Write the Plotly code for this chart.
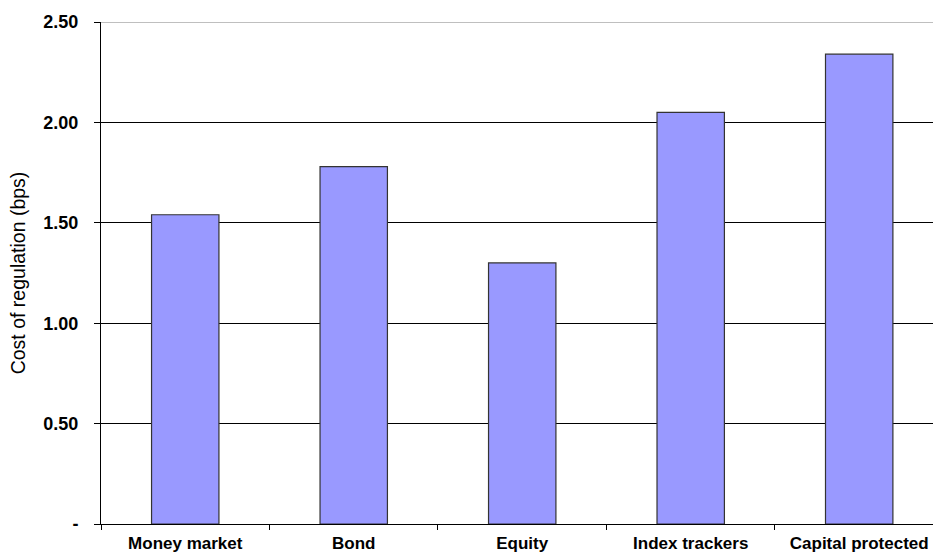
import plotly.graph_objects as go

categories = ["Money market", "Bond", "Equity", "Index trackers", "Capital protected"]
cost_bps = [1.54, 1.78, 1.30, 2.05, 2.34]

y_tickvals = [0, 0.5, 1.0, 1.5, 2.0, 2.5]
y_ticktext = ["-", "0.50", "1.00", "1.50", "2.00", "2.50"]

FONT = "Liberation Sans, Arial, sans-serif"

fig = go.Figure(
    go.Bar(
        x=categories,
        y=cost_bps,
        width=0.4,
        marker=dict(color="#9999FF", line=dict(color="#333333", width=1.2)),
    )
)

fig.update_layout(
    width=933,
    height=559,
    margin=dict(l=101, r=0, t=22, b=35),
    plot_bgcolor="white",
    paper_bgcolor="white",
    showlegend=False,
    font=dict(family=FONT, color="black"),
)

fig.update_xaxes(
    type="category",
    range=[-0.5, 4.438],
    automargin=False,
    showgrid=False,
    showline=True,
    linecolor="black",
    linewidth=1,
    ticks="outside",
    tickson="boundaries",
    ticklen=5,
    tickcolor="black",
    tickfont=dict(size=17, family=FONT, weight="bold"),
    ticklabelstandoff=4,
)

fig.update_yaxes(
    range=[0, 2.5],
    automargin=False,
    tickvals=y_tickvals,
    ticktext=y_ticktext,
    showgrid=True,
    gridcolor="black",
    gridwidth=1,
    showline=True,
    linecolor="black",
    linewidth=1,
    ticks="outside",
    ticklen=6,
    tickcolor="black",
    tickfont=dict(size=18, family=FONT, weight="bold"),
    ticklabelstandoff=12,
    zeroline=False,
    title=dict(
        text="Cost of regulation (bps)",
        font=dict(size=19.5, family=FONT),
        standoff=12,
    ),
)

# lighter rule along the top of the value axis
fig.add_shape(
    type="line", xref="paper", yref="y", x0=0, x1=1, y0=2.5, y1=2.5,
    line=dict(color="#aaaaaa", width=1.5), layer="above",
)

fig.write_html("out.html")
